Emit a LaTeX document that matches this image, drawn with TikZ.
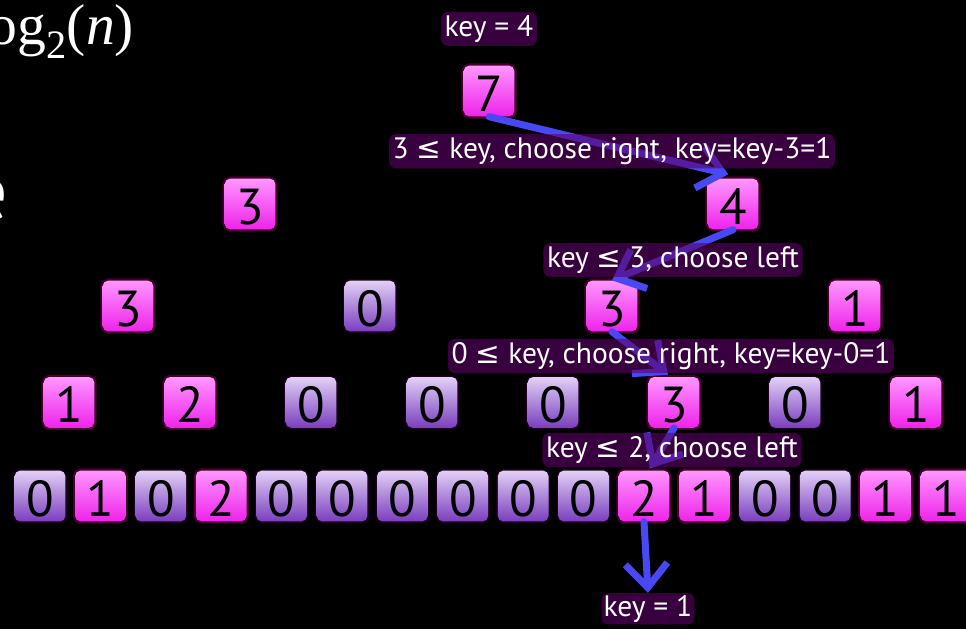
\documentclass[tikz,border=0pt]{standalone}
\usepackage{fontspec}
\setmainfont{PT Sans}
\newfontfamily\logfont{Liberation Serif}
\newfontfamily\symfont{DejaVu Sans}
\usepackage{tikz}
\usetikzlibrary{positioning,arrows.meta,calc}
\definecolor{pinktop}{RGB}{255,150,255}
\definecolor{pinkbot}{RGB}{238,35,235}
\definecolor{lavtop}{RGB}{226,208,246}
\definecolor{lavbot}{RGB}{122,62,190}
\definecolor{glowcol}{RGB}{95,0,105}
\definecolor{arrblue}{RGB}{72,72,245}
\newcommand{\lesym}{{\symfont ≤}}

\begin{document}
\begin{tikzpicture}[
  cell/.style={rounded corners=4pt, minimum size=1.27cm, inner sep=0pt, text height=1.0cm, text depth=0pt, font=\fontsize{36}{36}\selectfont},
  pbox/.style={cell, top color=pinktop, bottom color=pinkbot, preaction={draw=magenta, line width=3pt, draw opacity=0.3}},
  zbox/.style={cell, top color=lavtop, bottom color=lavbot, preaction={draw=violet, line width=2pt, draw opacity=0.25}},
  lbl/.style={text=white, fill=glowcol, fill opacity=0.6, text opacity=1, rounded corners=5pt, inner sep=2.5pt, font=\fontsize{21}{21}\selectfont},
  arr/.style={draw=arrblue, line width=5pt, line cap=round, -{Straight Barb[length=17pt, width=30pt]}},
]

% ===== background =====
\useasboundingbox (0,0) rectangle (24.15,-15.725);
\fill[black] (0,0) rectangle (24.15,-15.725);

% ===== cut-off slide text =====
\node[white, font=\logfont\fontsize{41}{41}\selectfont, anchor=base east, inner sep=0pt] (logn) at (3.36,-1.1) {log\textsubscript{2}(\textit{n})};
\node[white, font=\fontsize{57}{57}\selectfont, anchor=base east, inner sep=0pt] (tre) at (0.22,-5.5) {e};

% ===== tree =====
\node[pbox] (r) at (12.225,-2.275) {7};

\node[pbox] (a1) at (6.25,-5.1) {3};
\node[pbox] (a2) at (18.325,-5.1) {4};

\node[pbox] (b1) at (3.2,-7.65) {3};
\node[zbox] (b2) at (9.25,-7.65) {0};
\node[pbox] (b3) at (15.3,-7.65) {3};
\node[pbox] (b4) at (21.375,-7.65) {1};

\node[pbox] (c1) at (1.725,-10.06) {1};
\node[pbox] (c2) at (4.75,-10.06) {2};
\node[zbox] (c3) at (7.775,-10.06) {0};
\node[zbox] (c4) at (10.8,-10.06) {0};
\node[zbox] (c5) at (13.825,-10.06) {0};
\node[pbox] (c6) at (16.85,-10.06) {3};
\node[zbox] (c7) at (19.875,-10.06) {0};
\node[pbox] (c8) at (22.9,-10.06) {1};

% ===== leaves =====
\node[zbox] (d1) at (1.00,-12.4) {0};
\node[pbox] (d2) at (2.51,-12.4) {1};
\node[zbox] (d3) at (4.02,-12.4) {0};
\node[pbox] (d4) at (5.53,-12.4) {2};
\node[zbox] (d5) at (7.04,-12.4) {0};
\node[zbox] (d6) at (8.55,-12.4) {0};
\node[zbox] (d7) at (10.06,-12.4) {0};
\node[zbox] (d8) at (11.57,-12.4) {0};
\node[zbox] (d9) at (13.08,-12.4) {0};
\node[zbox] (d10) at (14.59,-12.4) {0};
\node[pbox] (d11) at (16.10,-12.4) {2};
\node[pbox] (d12) at (17.61,-12.4) {1};
\node[zbox] (d13) at (19.12,-12.4) {0};
\node[zbox] (d14) at (20.63,-12.4) {0};
\node[pbox] (d15) at (22.14,-12.4) {1};
\node[pbox] (d16) at (23.65,-12.4) {1};

% ===== search path =====
\coordinate (kend) at (16.2,-14.82);
\draw[arr] (r.south) -- ($(a2.north)+(-0.12,0.1)$);
\draw[arr] (a2.south) -- (b3.north);
\draw[arr] (b3.south) -- ($(c6.north)+(-0.15,0.05)$);
\draw[arr] (c6.south) -- ($(d11.north)+(0.15,0.05)$);
\draw[arr] (d11.south) -- (kend);

\node[lbl] (k4) at (12.225,-0.72) {key = 4};
\node[lbl] (s1) at (15.3,-3.78) {3 \lesym\ key, choose right, key=key-3=1};
\node[lbl] (s2) at (16.825,-6.5) {key \lesym\ 3, choose left};
\node[lbl] (s3) at (16.775,-8.9) {0 \lesym\ key, choose right, key=key-0=1};
\node[lbl] (s4) at (16.8,-11.25) {key \lesym\ 2, choose left};
\node[lbl, anchor=north, inner sep=1.5pt] (k1) at (kend) {key = 1};

\end{tikzpicture}
\end{document}
